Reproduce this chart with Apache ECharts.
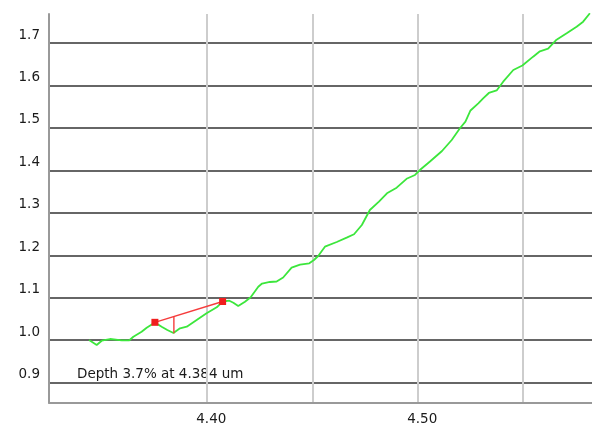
<!DOCTYPE html>
<html>
<head>
<meta charset="utf-8">
<script src="https://cdn.jsdelivr.net/npm/echarts@6/dist/echarts.min.js"></script>
<style>html,body{margin:0;padding:0;background:#fff}#c{width:592px;height:431px}</style>
</head>
<body>
<div id="c"></div>
<script>
var wavelength = [4.3442,4.3478,4.3502,4.3541,4.3597,4.3633,4.3652,4.3691,4.3715,4.3754,4.3786,4.3813,4.3842,4.3873,4.3905,4.3952,4.3999,4.4047,4.4075,4.4107,4.4126,4.4149,4.4181,4.4208,4.4244,4.4262,4.4299,4.4331,4.4362,4.4402,4.4442,4.4486,4.4508,4.4528,4.4560,4.4616,4.4663,4.4698,4.4735,4.4773,4.4816,4.4854,4.4900,4.4947,4.4987,4.5010,4.5058,4.5115,4.5161,4.5200,4.5226,4.5250,4.5287,4.5310,4.5337,4.5374,4.5405,4.5453,4.5496,4.5547,4.5579,4.5618,4.5658,4.5706,4.5753,4.5784,4.5816];
var flux = [1.0006,0.9888,0.9989,1.0029,0.9999,0.9999,1.0083,1.0201,1.0295,1.0418,1.0319,1.0241,1.0171,1.0281,1.0319,1.0477,1.0634,1.0776,1.0912,1.0931,1.0884,1.0806,1.0908,1.1011,1.1261,1.1336,1.1372,1.1383,1.1478,1.1708,1.1779,1.1812,1.1890,1.1984,1.2203,1.2314,1.2415,1.2495,1.2714,1.3067,1.3263,1.3461,1.3593,1.3802,1.3892,1.4009,1.4210,1.4457,1.4716,1.4992,1.5147,1.5411,1.5580,1.5698,1.5823,1.5882,1.6089,1.6365,1.6471,1.6678,1.6805,1.6866,1.7078,1.7229,1.7384,1.7502,1.7700];
var continuumX = [4.3754, 4.4075];
var continuumY = [1.0422, 1.0912];
var depthX = [4.3844, 4.3844];
var depthY = [1.0559, 1.0163];
var yTicks = [0.9,1.0,1.1,1.2,1.3,1.4,1.5,1.6,1.7];
var xTicks = [4.40,4.45,4.50,4.55];
var xLabels = [4.40,4.50];
var depthText = 'Depth 3.7% at 4.384 um';

function zip(a,b){return a.map(function(v,i){return [v,b[i]];});}
var FONT = 'DejaVu Sans';
var chart = echarts.init(document.getElementById('c'), null, {renderer:'canvas'});
chart.setOption({
  animation:false,
  backgroundColor:'#fff',
  grid:{left:49, right:0, top:14, bottom:28.3, containLabel:false},
  xAxis:{
    type:'value', min:4.3252, max:4.5826,
    axisLine:{show:true, onZero:false, lineStyle:{color:'#999', width:2}},
    axisTick:{show:false, customValues:xTicks},
    axisLabel:{customValues:xLabels, formatter:function(v){return v.toFixed(2);}, color:'#1a1a1a', fontFamily:FONT, fontSize:13.5, margin:10, padding:[0,0,0,9]},
    splitLine:{show:true, lineStyle:{color:'#cdcdcd', width:2}}
  },
  yAxis:{
    type:'value', min:0.8529, max:1.7683,
    axisLine:{show:true, onZero:false, lineStyle:{color:'#999', width:2}},
    axisTick:{show:false, customValues:yTicks},
    axisLabel:{customValues:yTicks, formatter:function(v){return v.toFixed(1);}, color:'#1a1a1a', fontFamily:FONT, fontSize:13.5, margin:9, verticalAlign:'bottom', lineHeight:16},
    splitLine:{show:true, lineStyle:{color:'#333', width:1.5}}
  },
  series:[
    {type:'line', data:zip(wavelength,flux), showSymbol:false, symbol:'none', lineStyle:{color:'#3ce63c', width:1.8}, clip:true, z:3},
    {type:'line', data:zip(continuumX,continuumY), symbol:'rect', symbolSize:7, itemStyle:{color:'#f01e1e'}, lineStyle:{color:'#f53c3c', width:1.4}, z:4},
    {type:'line', data:zip(depthX,depthY), symbol:'none', lineStyle:{color:'#f53c3c', width:1.4}, z:4}
  ],
  graphic:[{type:'text', left:77, top:367, style:{text:depthText, fill:'#1a1a1a', font:'13.5px "DejaVu Sans"'}}]
});
</script>
</body>
</html>
